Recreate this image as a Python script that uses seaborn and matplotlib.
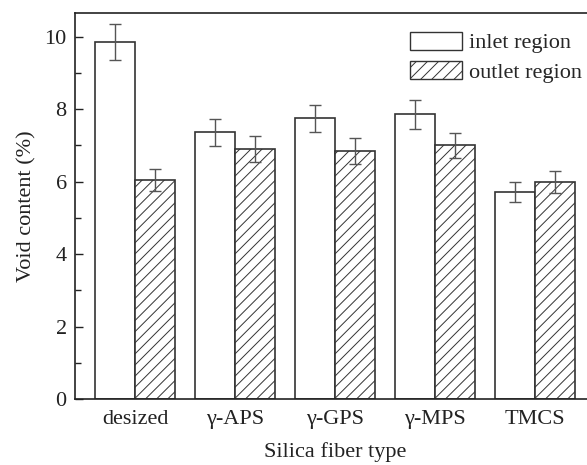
import matplotlib
matplotlib.use("Agg")
import matplotlib.pyplot as plt
import seaborn as sns
import pandas as pd
import numpy as np
from matplotlib.patches import Patch
from matplotlib.ticker import MultipleLocator

categories = ["desized", "γ-APS", "γ-GPS", "γ-MPS", "TMCS"]
inlet = [9.85, 7.36, 7.75, 7.86, 5.71]
inlet_err = [0.50, 0.37, 0.38, 0.40, 0.28]
outlet = [6.05, 6.90, 6.85, 7.00, 5.99]
outlet_err = [0.30, 0.35, 0.35, 0.35, 0.31]
series = ["inlet region", "outlet region"]

sns.set_theme(style="ticks")
plt.rcParams["font.family"] = ["Liberation Serif", "DejaVu Serif"]
plt.rcParams["hatch.linewidth"] = 0.7
plt.rcParams["hatch.color"] = "#222222"

df = pd.DataFrame({
    "type": categories * 2,
    "value": inlet + outlet,
    "err": inlet_err + outlet_err,
    "region": [series[0]] * len(categories) + [series[1]] * len(categories),
})

fig = plt.figure(figsize=(5.87, 4.65), dpi=100)
ax = fig.add_axes([0.1278, 0.1419, 0.885, 0.8295])

sns.barplot(data=df, x="type", y="value", hue="region", order=categories,
            hue_order=series, palette=["white", "white"], edgecolor="#333333",
            linewidth=1.2, errorbar=None, width=0.8, gap=0, legend=False, ax=ax)

n = len(categories)
patches = [p for p in ax.patches][:2 * n]
for i, p in enumerate(patches):
    if i >= n:
        p.set_hatch("///")
    x = p.get_x() + p.get_width() / 2
    h = p.get_height()
    e = df["err"].iloc[i]
    ax.errorbar(x, h, yerr=e, fmt="none", ecolor="#555555", elinewidth=1.0,
                capsize=4, capthick=1.0, zorder=5)

ax.set_xlim(-0.6, 4.6)
ax.set_ylim(0, 10.65)
ax.yaxis.set_major_locator(MultipleLocator(2))
ax.yaxis.set_minor_locator(MultipleLocator(1))
ax.tick_params(axis="y", which="major", direction="in", length=6, width=1,
               labelsize=16, pad=6, colors="#222222")
ax.tick_params(axis="y", which="minor", direction="in", length=4, width=1,
               colors="#222222")
ax.tick_params(axis="x", length=0, labelsize=16, pad=8, colors="#222222")
for s in ax.spines.values():
    s.set_color("#222222")
    s.set_linewidth(1.2)
ax.set_xlabel("Silica fiber type", fontsize=16, labelpad=9, color="#222222")
ax.set_ylabel("Void content (%)", fontsize=16, labelpad=6, color="#222222")

handles = [Patch(facecolor="white", edgecolor="#333333", linewidth=1.0),
           Patch(facecolor="white", edgecolor="#333333", linewidth=1.0, hatch="///")]
ax.legend(handles, series, loc="upper left", bbox_to_anchor=(0.645, 0.952),
          frameon=False, fontsize=16, handlelength=2.35, handleheight=0.86,
          handletextpad=0.3, labelspacing=0.36, borderaxespad=0, borderpad=0)

fig.savefig("out.png", dpi=100)
